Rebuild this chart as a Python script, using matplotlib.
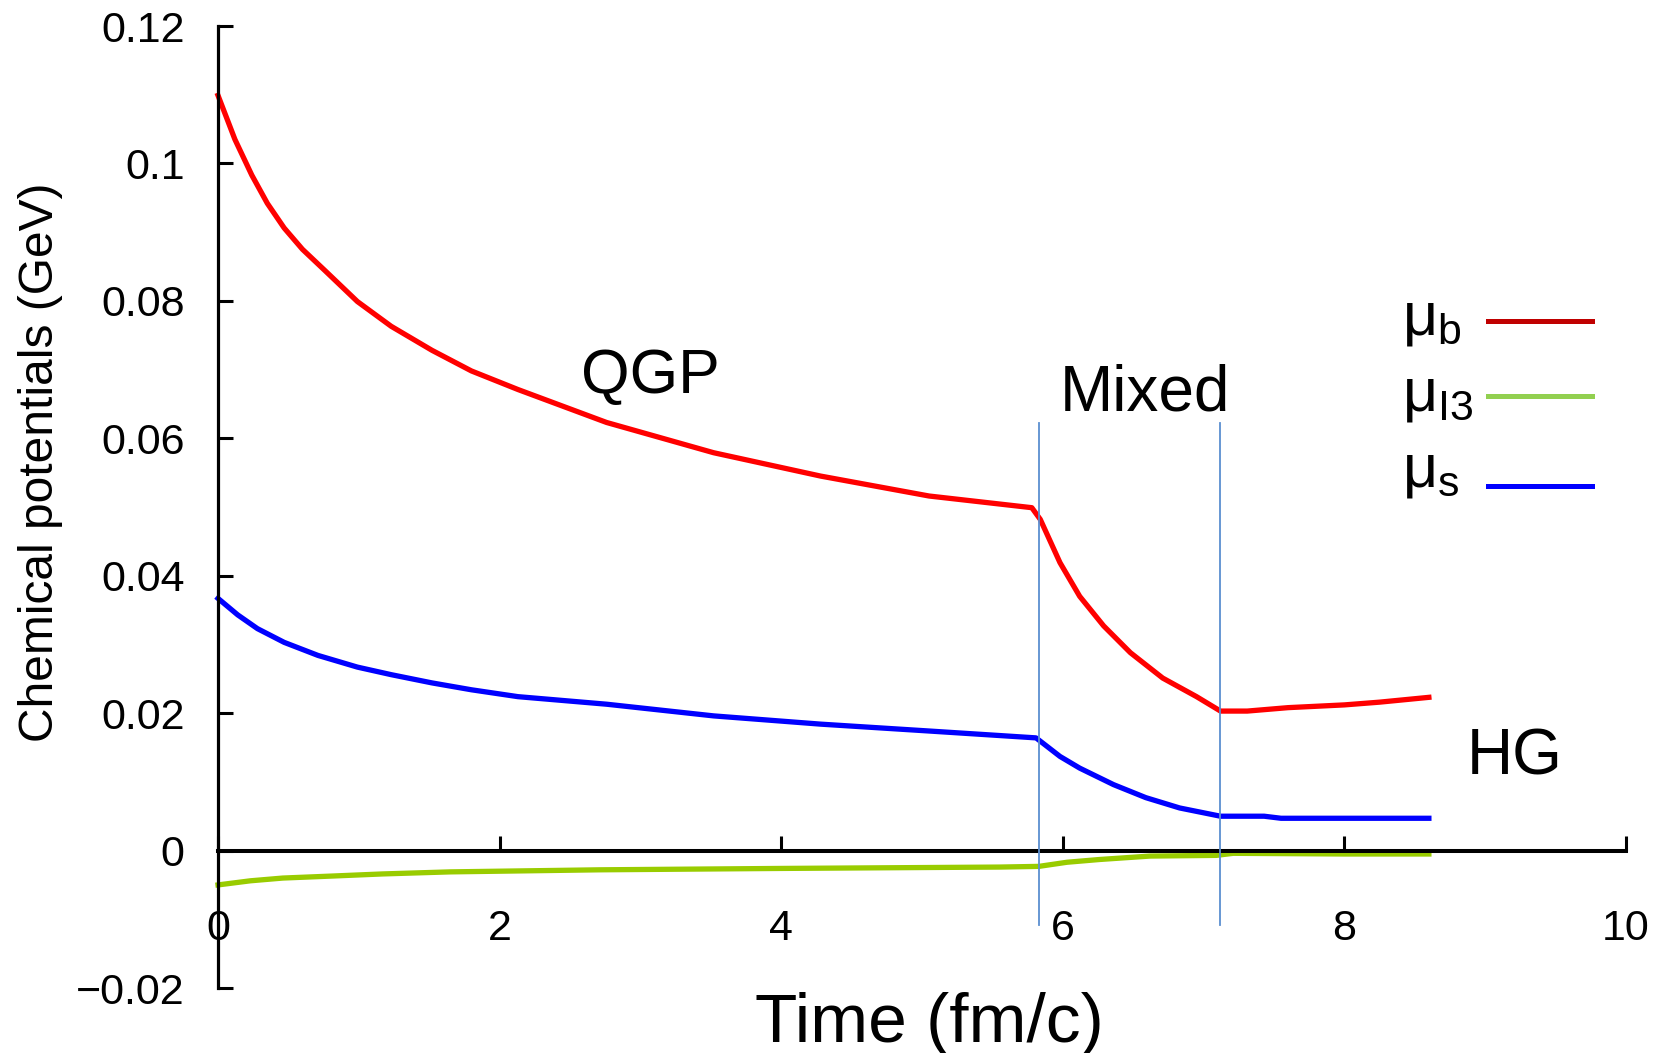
import matplotlib; matplotlib.use("Agg")
import matplotlib.pyplot as plt
from matplotlib.lines import Line2D

plt.rcParams["font.family"] = ["Liberation Sans", "DejaVu Sans"]
plt.rcParams["mathtext.default"] = "regular"

# time (fm/c) and chemical potentials (GeV)
mu_b_t = [0, 0.12, 0.24, 0.35, 0.47, 0.6, 0.76, 0.99, 1.23, 1.52, 1.8, 2.13, 2.76, 3.52, 4.28, 5.05, 5.78,
          5.84, 5.98, 6.12, 6.29, 6.48, 6.71, 6.95, 7.12, 7.31, 7.6, 8.0, 8.25, 8.6]
mu_b = [0.1099, 0.1035, 0.0983, 0.0942, 0.0906, 0.0875, 0.0844, 0.0799, 0.0763, 0.0728, 0.0698, 0.0671,
        0.0623, 0.0579, 0.0545, 0.0516, 0.0499, 0.0482, 0.0419, 0.0370, 0.0327, 0.0288, 0.0251, 0.0224,
        0.0203, 0.0203, 0.0208, 0.0212, 0.0216, 0.0223]

mu_s_t = [0, 0.14, 0.28, 0.47, 0.71, 0.99, 1.23, 1.52, 1.8, 2.13, 2.76, 3.52, 4.28, 5.05, 5.81,
          5.98, 6.12, 6.36, 6.59, 6.83, 7.12, 7.43, 7.55, 8.0, 8.6]
mu_s = [0.0367, 0.0343, 0.0323, 0.0303, 0.0284, 0.0267, 0.0256, 0.0244, 0.0234, 0.0224, 0.0213, 0.0196,
        0.0184, 0.0174, 0.0164, 0.0137, 0.0120, 0.0096, 0.0077, 0.0062, 0.0050, 0.0050, 0.0047,
        0.0047, 0.0047]

mu_i3_t = [0, 0.23, 0.46, 0.82, 1.17, 1.65, 2.36, 2.71, 4.0, 5.55, 5.83, 6.03, 6.26, 6.62,
           7.09, 7.21, 8.0, 8.6]
mu_i3 = [-0.0050, -0.0044, -0.0040, -0.0037, -0.0034, -0.0031, -0.0029, -0.0028, -0.0026,
         -0.0024, -0.0023, -0.0017, -0.0013, -0.0008, -0.0007, -0.0004, -0.0005, -0.0005]

phase_bounds = [5.83, 7.12]
phase_labels = [("QGP", 3.07, 0.0690, 45), ("Mixed", 6.58, 0.0665, 46), ("HG", 9.21, 0.0136, 46)]

legend_labels = ["\u03bc$_b$", "\u03bc$_{I3}$", "\u03bc$_s$"]
legend_colors = ["#c00000", "#92d050", "#0000ff"]

W, H = 1666, 1053
fig = plt.figure(figsize=(W / 100, H / 100), dpi=100)
ax = fig.add_axes([218 / W, 1 - 988 / H, 1408 / W, 962 / H])

for xb in phase_bounds:
    ax.plot([xb, xb], [-0.0108, 0.0622], color="#5b8fd0", lw=1.3, zorder=3)

ax.plot(mu_b_t, mu_b, color="#ff0000", lw=3.8, zorder=2, clip_on=False)
ax.plot(mu_i3_t, mu_i3, color="#99cc00", lw=3.8, zorder=2, clip_on=False)
ax.plot(mu_s_t, mu_s, color="#0000ff", lw=3.8, zorder=2, clip_on=False)

for txt, x, y, fs in phase_labels:
    ax.text(x, y, txt, fontsize=fs, ha="center", va="center")

ax.set_xlim(0, 10)
ax.set_ylim(-0.02, 0.12)
ax.set_xticks([0, 2, 4, 6, 8, 10])
ax.set_xticklabels(["0", "2", "4", "6", "8", "10"])
ax.set_yticks([-0.02, 0, 0.02, 0.04, 0.06, 0.08, 0.1, 0.12])
ax.set_yticklabels(["\u22120.02", "0", "0.02", "0.04", "0.06", "0.08", "0.1", "0.12"])

ax.spines["top"].set_visible(False)
ax.spines["right"].set_visible(False)
ax.spines["bottom"].set_position(("data", 0))
ax.spines["bottom"].set_linewidth(2.9)
ax.spines["left"].set_linewidth(2.3)
ax.tick_params(axis="x", direction="in", length=11, width=2.2, labelsize=31, pad=42)
ax.tick_params(axis="y", direction="in", length=11, width=2.2, labelsize=31, pad=24)

ax.set_xlabel("Time (fm/c)", fontsize=50)
ax.xaxis.set_label_coords(0.505, -0.004)
ax.set_ylabel("Chemical potentials (GeV)", fontsize=34.5)
ax.yaxis.set_label_coords(-0.110, 0.547)

# legend: labels left-aligned, sample line to the right (pixel rows from the reference)
for lbl, col, y_txt, y_line in zip(legend_labels, legend_colors, [335, 410, 487], [321, 396, 486]):
    fig.text(1402 / W, 1 - y_txt / H, lbl, fontsize=44, ha="left", va="baseline")
    fig.add_artist(Line2D([1488 / W, 1592 / W], [1 - y_line / H] * 2, color=col, lw=3.6,
                          transform=fig.transFigure))

fig.savefig("out.png", dpi=100)
